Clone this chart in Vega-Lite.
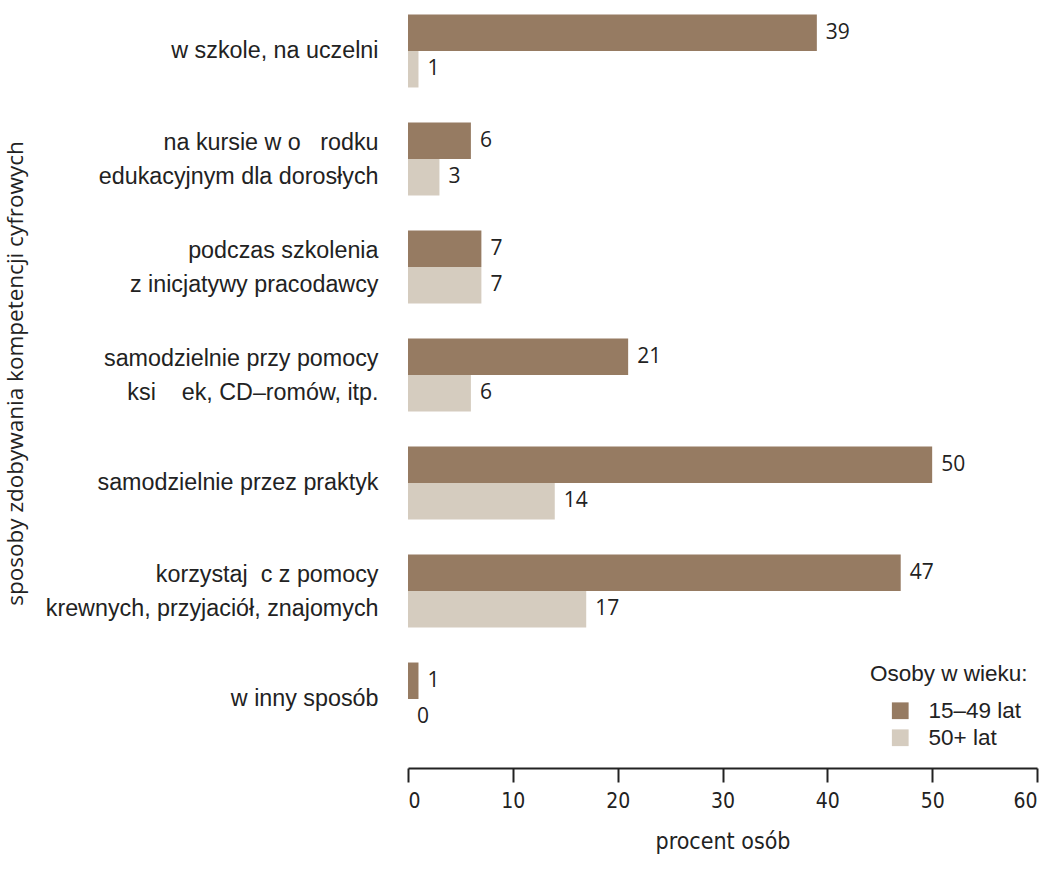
{
  "$schema": "https://vega.github.io/schema/vega-lite/v6.json",
  "autosize": "none",
  "padding": {"left": 408, "top": 0, "right": 14, "bottom": 131},
  "width": 629,
  "height": 750,
  "background": "white",
  "config": {
    "view": {"stroke": null},
    "font": "Liberation Sans"
  },
  "data": {
    "values": [
      {"sposob": "w szkole, na uczelni", "grupa": "15–49 lat", "wartosc": 39},
      {"sposob": "w szkole, na uczelni", "grupa": "50+ lat", "wartosc": 1},
      {"sposob": "na kursie w o\u00a0\u00a0\u00a0rodku|edukacyjnym dla dorosłych", "grupa": "15–49 lat", "wartosc": 6},
      {"sposob": "na kursie w o\u00a0\u00a0\u00a0rodku|edukacyjnym dla dorosłych", "grupa": "50+ lat", "wartosc": 3},
      {"sposob": "podczas szkolenia|z inicjatywy pracodawcy", "grupa": "15–49 lat", "wartosc": 7},
      {"sposob": "podczas szkolenia|z inicjatywy pracodawcy", "grupa": "50+ lat", "wartosc": 7},
      {"sposob": "samodzielnie przy pomocy|ksi\u00a0\u00a0\u00a0\u00a0ek, CD–romów, itp.", "grupa": "15–49 lat", "wartosc": 21},
      {"sposob": "samodzielnie przy pomocy|ksi\u00a0\u00a0\u00a0\u00a0ek, CD–romów, itp.", "grupa": "50+ lat", "wartosc": 6},
      {"sposob": "samodzielnie przez praktyk\u00a0\u00a0", "grupa": "15–49 lat", "wartosc": 50},
      {"sposob": "samodzielnie przez praktyk\u00a0\u00a0", "grupa": "50+ lat", "wartosc": 14},
      {"sposob": "korzystaj\u00a0\u00a0c z pomocy|krewnych, przyjaciół, znajomych", "grupa": "15–49 lat", "wartosc": 47},
      {"sposob": "korzystaj\u00a0\u00a0c z pomocy|krewnych, przyjaciół, znajomych", "grupa": "50+ lat", "wartosc": 17},
      {"sposob": "w inny sposób", "grupa": "15–49 lat", "wartosc": 1},
      {"sposob": "w inny sposób", "grupa": "50+ lat", "wartosc": 0}
    ]
  },
  "encoding": {
    "y": {
      "field": "sposob",
      "type": "nominal",
      "sort": null,
      "scale": {"paddingInner": 0.324, "paddingOuter": 0.134},
      "axis": {
        "title": "sposoby zdobywania kompetencji cyfrowych",
        "titleFont": "Open Sans",
        "titleFontSize": 22.5,
        "titleFontWeight": "normal",
        "titleColor": "#222222",
        "titleX": -393,
        "titleY": 373,
        "titleAngle": 270,
        "titleAlign": "center",
        "titleBaseline": "middle",
        "domain": false,
        "ticks": false,
        "labelPadding": 30,
        "labelLimit": 0,
        "labelFontSize": 23.3,
        "labelFont": "Liberation Sans",
        "labelColor": "#222222",
        "labelLineHeight": 34,
        "labelOffset": {"condition": {"test": "indexof(datum.value, '|') >= 0", "value": -16}, "value": 0},
        "labelExpr": "split(datum.label, '|')"
      }
    },
    "yOffset": {"field": "grupa", "type": "nominal", "sort": ["15–49 lat", "50+ lat"]},
    "x": {
      "field": "wartosc",
      "type": "quantitative",
      "scale": {"domain": [0, 60], "nice": false},
      "axis": {
        "title": "procent osób",
        "titleFont": "DejaVu Sans Condensed, Roboto",
        "titleFontSize": 23,
        "titleFontWeight": "normal",
        "titleColor": "#222222",
        "titlePadding": 19,
        "values": [0, 10, 20, 30, 40, 50, 60],
        "grid": false,
        "offset": 18,
        "tickSize": 14,
        "tickWidth": 2,
        "tickColor": "#222222",
        "domainColor": "#222222",
        "domainWidth": 2,
        "labelFont": "DejaVu Sans Condensed, Roboto",
        "labelFontSize": 21,
        "labelColor": "#222222",
        "labelPadding": 8
      }
    }
  },
  "layer": [
    {
      "mark": {"type": "bar"},
      "encoding": {
        "color": {
          "field": "grupa",
          "type": "nominal",
          "sort": ["15–49 lat", "50+ lat"],
          "scale": {"domain": ["15–49 lat", "50+ lat"], "range": ["#967B62", "#D5CCBF"]},
          "legend": {
            "title": "Osoby w wieku:",
            "orient": "none",
            "legendX": 462,
            "legendY": 663,
            "titleFont": "Liberation Sans",
            "titleFontSize": 22.5,
            "titleFontWeight": "normal",
            "titleColor": "#222222",
            "titlePadding": 14,
            "labelFont": "Liberation Sans",
            "labelFontSize": 22.5,
            "labelColor": "#222222",
            "labelOffset": 17,
            "symbolType": "square",
            "symbolSize": 280,
            "symbolStrokeWidth": 0,
            "symbolOffset": 19,
            "rowPadding": 4
          }
        }
      }
    },
    {
      "mark": {"type": "text", "align": "left", "baseline": "middle", "dx": 9, "font": "Open Sans", "fontSize": 21, "color": "#222222"},
      "encoding": {"text": {"field": "wartosc", "type": "quantitative"}}
    }
  ]
}
